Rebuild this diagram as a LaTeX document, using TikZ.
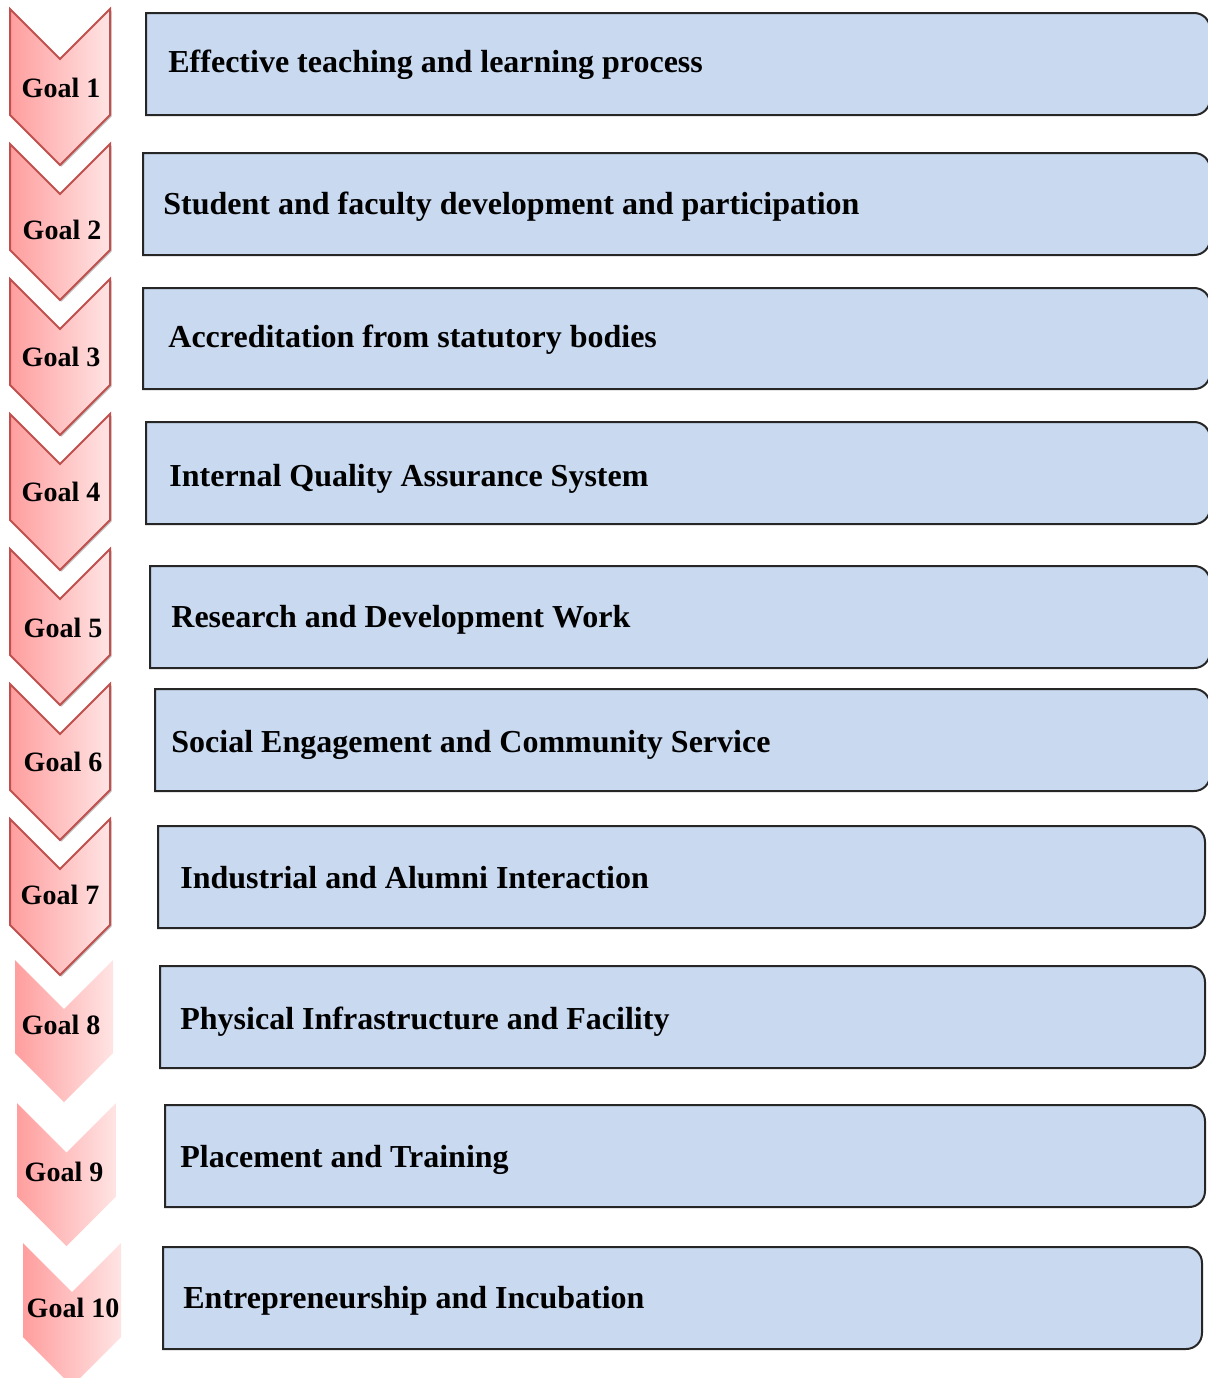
\documentclass[tikz,border=0pt]{standalone}
\usepackage{fontspec}
\setmainfont{Liberation Serif}
\usetikzlibrary{shadows}

\definecolor{boxblue}{RGB}{201,217,240}
\definecolor{chevline}{RGB}{192,80,77}
\definecolor{chevdark}{RGB}{255,158,158}
\definecolor{chevlight}{RGB}{255,228,228}

\tikzset{
  chevframed/.style={left color=chevdark, right color=chevlight, draw=chevline,
    line width=1pt, line join=miter,
    drop shadow={shadow xshift=0.8pt, shadow yshift=-0.8pt, opacity=0.25, fill=black}},
  chevplain/.style={left color=chevdark, right color=chevlight},
  goallabel/.style={font=\fontsize{14}{16}\selectfont\bfseries, inner sep=0pt},
  boxframe/.style={fill=boxblue, draw=black!85, line width=1pt},
  boxlabel/.style={font=\fontsize{16}{19}\selectfont\bfseries, inner sep=0pt, anchor=base west},
}

% chevron pointing down: style, left x, right x, top y, tip y
\newcommand\chevron[5]{%
  \path[#1] (#2,#4) -- ({(#2+#3)/2},{#4+(#3-#2)/2}) -- (#3,#4)
    -- (#3,{#5-(#3-#2)/2}) -- ({(#2+#3)/2},#5) -- (#2,{#5-(#3-#2)/2}) -- cycle;}

% goal box, square on the left, rounded on the right: left, top, bottom, right
\newcommand\goalbox[4]{%
  \path[boxframe] (#1,#2) -- ({#4-16},#2) .. controls ({#4-7},#2) and (#4,{#2+7}) .. (#4,{#2+16})
    -- (#4,{#3-16}) .. controls (#4,{#3-7}) and ({#4-7},#3) .. ({#4-16},#3)
    -- (#1,#3) -- cycle;}

\begin{document}
\begin{tikzpicture}[x=0.5pt, y=-0.5pt]
  \useasboundingbox (0,0) rectangle (1208,1378);
  \clip (0,0) rectangle (1208,1378);

  % chevrons, goals 7 down to 1 so that each one overlaps the next
  \chevron{chevplain}{23}{121}{1243}{1386}
  \chevron{chevplain}{17}{116}{1103}{1246}
  \chevron{chevplain}{15}{113}{960}{1102}
  \chevron{chevframed}{10}{110}{819}{975}
  \chevron{chevframed}{10}{110}{684}{840}
  \chevron{chevframed}{10}{110}{549}{705}
  \chevron{chevframed}{10}{110}{414}{570}
  \chevron{chevframed}{10}{110}{279}{435}
  \chevron{chevframed}{10}{110}{144}{300}
  \chevron{chevframed}{10}{110}{9}{165}

  \node[goallabel] (g1) at (61,88) {Goal 1};
  \node[goallabel] (g2) at (62,230) {Goal 2};
  \node[goallabel] (g3) at (61,357) {Goal 3};
  \node[goallabel] (g4) at (61,492) {Goal 4};
  \node[goallabel] (g5) at (63,628) {Goal 5};
  \node[goallabel] (g6) at (63,762) {Goal 6};
  \node[goallabel] (g7) at (60,895) {Goal 7};
  \node[goallabel] (g8) at (61,1025) {Goal 8};
  \node[goallabel] (g9) at (64,1172) {Goal 9};
  \node[goallabel] (g10) at (73,1308) {Goal 10};

  % goal boxes
  \goalbox{146}{13}{115}{1210}
  \goalbox{143}{153}{255}{1210}
  \goalbox{143}{288}{389}{1210}
  \goalbox{146}{422}{524}{1210}
  \goalbox{150}{566}{668}{1210}
  \goalbox{155}{689}{791}{1210}
  \goalbox{158}{826}{928}{1205}
  \goalbox{160}{966}{1068}{1205}
  \goalbox{165}{1105}{1207}{1205}
  \goalbox{163}{1247}{1349}{1202}

  \node[boxlabel] (t1) at (168,72) {Effective teaching and learning process};
  \node[boxlabel] (t2) at (163,214) {Student and faculty development and participation};
  \node[boxlabel] (t3) at (168,347) {Accreditation from statutory bodies};
  \node[boxlabel] (t4) at (169,486) {Internal Quality Assurance System};
  \node[boxlabel] (t5) at (171,627) {Research and Development Work};
  \node[boxlabel] (t6) at (171,752) {Social Engagement and Community Service};
  \node[boxlabel] (t7) at (180,888) {Industrial and Alumni Interaction};
  \node[boxlabel] (t8) at (180,1029) {Physical Infrastructure and Facility};
  \node[boxlabel] (t9) at (180,1167) {Placement and Training};
  \node[boxlabel] (t10) at (183,1308) {Entrepreneurship and Incubation};
\end{tikzpicture}
\end{document}
